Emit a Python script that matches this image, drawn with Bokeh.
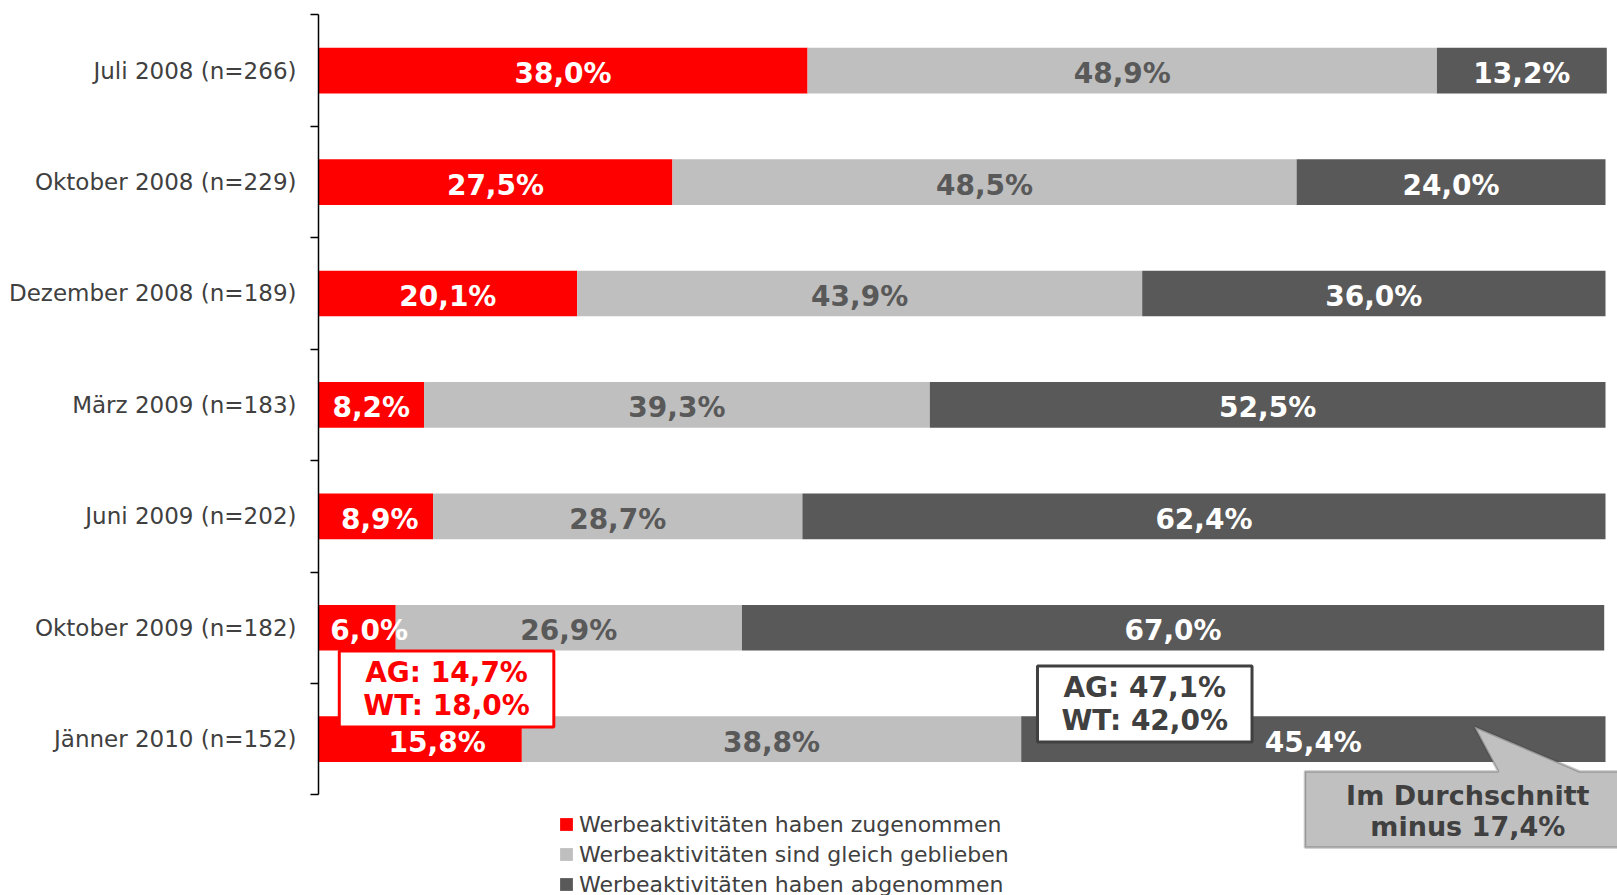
import numpy as np
from bokeh.plotting import figure
from bokeh.models import ColumnDataSource, FixedTicker, Label, PolyAnnotation, Range1d
from bokeh.core.properties import value
from bokeh.embed import file_html
from bokeh.resources import INLINE

categories = ["Juli 2008 (n=266)", "Oktober 2008 (n=229)", "Dezember 2008 (n=189)",
              "März 2009 (n=183)", "Juni 2009 (n=202)", "Oktober 2009 (n=182)",
              "Jänner 2010 (n=152)"]
zugenommen = [38.0, 27.5, 20.1, 8.2, 8.9, 6.0, 15.8]
gleich = [48.9, 48.5, 43.9, 39.3, 28.7, 26.9, 38.8]
abgenommen = [13.2, 24.0, 36.0, 52.5, 62.4, 67.0, 45.4]
series_names = ["Werbeaktivitäten haben zugenommen",
                "Werbeaktivitäten sind gleich geblieben",
                "Werbeaktivitäten haben abgenommen"]
box_red_lines = ["AG: 14,7%", "WT: 18,0%"]
box_dark_lines = ["AG: 47,1%", "WT: 42,0%"]
callout_lines = ["Im Durchschnitt", "minus 17,4%"]

RED = "#FF0000"
LIGHT = "#BFBFBF"
DARK = "#595959"
TEXT = "#404040"
FONT = "DejaVu Sans"

W, H = 1617, 895
LEFT = 318            # axis position (px)
TOP = 14.4            # top of category axis (px)
ROW = 780 / 7         # px per category
XPX = 12.87           # px per percent

n = len(categories)
ys = [n - 1 - i for i in range(n)]

def fmt(v):
    return f"{v:.1f}".replace(".", ",") + "%"

source = ColumnDataSource(dict(y=ys, zu=zugenommen, gl=gleich, ab=abgenommen))

y_end = (n - 0.5) + TOP / ROW
y_start = (n - 0.5) - (H - TOP) / ROW
x_end = (W - LEFT) / XPX

p = figure(width=W, height=H, output_backend="svg", toolbar_location=None,
           x_range=Range1d(0, x_end), y_range=Range1d(y_start, y_end),
           x_axis_location=None, y_axis_location="left",
           min_border_left=LEFT, min_border_right=0, min_border_top=0, min_border_bottom=0)
p.outline_line_color = None
p.grid.visible = False
p.background_fill_color = "white"
p.border_fill_color = "white"

p.hbar_stack(["zu", "gl", "ab"], y="y", height=0.41, color=[RED, LIGHT, DARK],
             line_color=None, source=source, legend_label=series_names)

# bar value labels
vals = np.array([zugenommen, gleich, abgenommen])
lefts = np.vstack([np.zeros(n), np.cumsum(vals, axis=0)[:-1]])
centers = lefts + vals / 2
label_colors = ["white", DARK, "white"]
# manual nudges (px) of some labels, as in the original
label_nudge = [[0, 0, 0, 0, 4, 12, 17], [0] * n, [0] * n]
for k in range(3):
    p.text(x=list(centers[k]), y=ys, text=[fmt(v) for v in vals[k]],
           x_offset=label_nudge[k],
           text_align="center", text_baseline="middle",
           text_font=value(FONT), text_font_style="bold",
           text_font_size=value("28px"), text_color=label_colors[k], y_offset=3)

ax = p.yaxis[0]
ax.bounds = (-0.5, n - 0.5)
ax.ticker = FixedTicker(ticks=ys, minor_ticks=[i - 0.5 for i in range(n + 1)])
ax.major_label_overrides = {y: c for y, c in zip(ys, categories)}
ax.major_tick_out = 0
ax.major_tick_in = 0
ax.minor_tick_out = 8
ax.minor_tick_in = 0
ax.minor_tick_line_color = "black"
ax.minor_tick_line_width = 1.5
ax.axis_line_color = "black"
ax.axis_line_width = 1.5
ax.major_label_standoff = 14
ax.major_label_text_font = FONT
ax.major_label_text_font_size = "23px"
ax.major_label_text_color = TEXT

# callout
p.add_layout(PolyAnnotation(
    xs=[76.65, 91.67, 89.8, 97.98, 101.5, 101.5, 76.65],
    ys=[-0.29, -0.29, 0.114, -0.29, -0.29, -0.972, -0.972],
    fill_color="#C0C0C0", fill_alpha=1.0, line_color=TEXT, line_width=2.5))
p.add_layout(Label(x=89.3, y=-0.64, text="\n".join(callout_lines),
                   text_align="center", text_baseline="middle",
                   text_font=FONT, text_font_style="bold", text_font_size="27px",
                   text_color=TEXT, text_line_height=1.0))

# boxes
p.add_layout(Label(x=9.95, y=0.45, text="\n".join(box_red_lines),
                   text_align="center", text_baseline="middle",
                   text_font=FONT, text_font_style="bold", text_font_size="28px",
                   text_color=RED, text_line_height=1.0,
                   background_fill_color="white", border_line_color=RED, border_line_width=3,
                   padding=dict(left=24, right=24, top=5, bottom=5)))
p.add_layout(Label(x=64.2, y=0.316, text="\n".join(box_dark_lines),
                   text_align="center", text_baseline="middle",
                   text_font=FONT, text_font_style="bold", text_font_size="28px",
                   text_color=TEXT, text_line_height=1.0,
                   background_fill_color="white", border_line_color=TEXT, border_line_width=3,
                   padding=dict(left=24, right=24, top=5, bottom=5)))

lg = p.legend[0]
lg.location = (240, -4)
lg.orientation = "vertical"
lg.glyph_width = 16
lg.glyph_height = 16
lg.label_standoff = 5
lg.label_height = 30
lg.spacing = 0
lg.padding = 0
lg.margin = 0
lg.border_line_color = None
lg.background_fill_alpha = 0
lg.label_text_font = FONT
lg.label_text_font_size = "22px"
lg.label_text_color = TEXT

open("out.html", "w").write(file_html(p, INLINE))
